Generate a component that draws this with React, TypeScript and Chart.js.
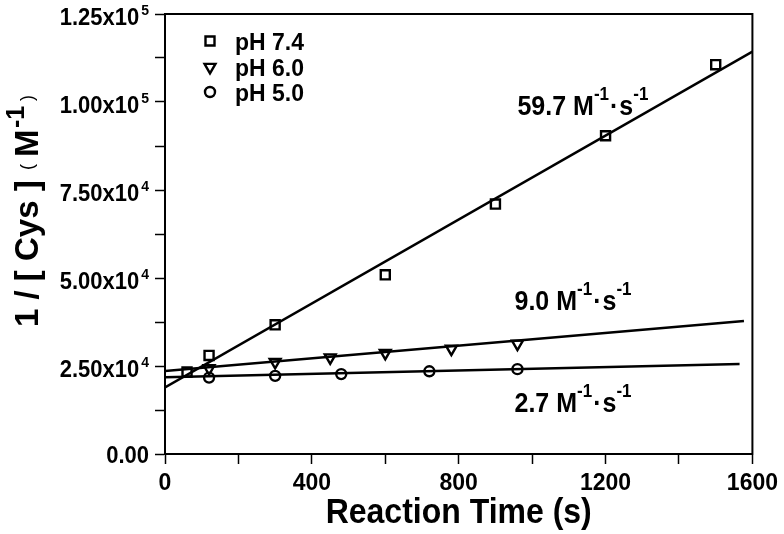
import React, { useEffect, useRef } from 'react';
import { Chart, registerables } from 'chart.js';

Chart.register(...registerables);

const FONT = '"Liberation Sans", Arial, Helvetica, sans-serif';

// pH 7.4 (squares)
const timeA = [60, 120, 300, 600, 900, 1200, 1500];
const valA = [23300, 28000, 36700, 50900, 71000, 90400, 110600];
// pH 6.0 (down triangles)
const timeB = [120, 300, 450, 600, 780, 960];
const valB = [24300, 26100, 27400, 28700, 29900, 31300];
// pH 5.0 (circles)
const timeC = [120, 300, 480, 720, 960];
const valC = [21700, 22200, 22700, 23500, 24100];

// fitted lines (end points)
const fitXA = [0, 1600];
const fitYA = [18900, 114300];
const fitXB = [0, 1577];
const fitYB = [23600, 37800];
const fitXC = [0, 1565];
const fitYC = [21800, 25600];

const seriesLabels = ['pH 7.4', 'pH 6.0', 'pH 5.0'];
const seriesStyles = ['rect', 'triangle', 'circle'];

// rate-constant annotations
const rateText = ['59.7', '9.0', '2.7'];
const rateX = [960, 952, 952];
const rateY = [96200, 40800, 11900];

// axis ticks
const xMin = 0;
const xMax = 1600;
const xStep = 200;
const xLabelEvery = 400;
const yMin = 0;
const yMax = 125000;
const yStep = 12500;
const yLabelValues = [0, 25000, 50000, 75000, 100000, 125000];
const yLabelMantissa = ['0.00', '2.50', '5.00', '7.50', '1.00', '1.25'];
const yLabelExp = ['', '4', '4', '4', '5', '5'];

const xTitle = 'Reaction Time (s)';

const zip = (xs: number[], ys: number[]) => xs.map((x, i) => ({ x, y: ys[i] }));

const SY = 1.08; // slight vertical stretch of the printed lettering

function fillStretched(ctx: CanvasRenderingContext2D, t: string, x: number, y: number) {
  ctx.save();
  ctx.translate(x, y);
  ctx.scale(1, SY);
  ctx.fillText(t, 0, 0);
  ctx.restore();
}

function drawMarker(ctx: CanvasRenderingContext2D, style: string, x: number, y: number) {
  ctx.save();
  ctx.strokeStyle = '#000';
  ctx.lineWidth = 2.4;
  ctx.beginPath();
  if (style === 'rect') {
    ctx.rect(x - 4.5, y - 4.5, 9, 9);
  } else if (style === 'triangle') {
    const r = 6.3;
    for (let k = 0; k < 3; k++) {
      const a = Math.PI + (k * 2 * Math.PI) / 3;
      const px = x + Math.sin(a) * r;
      const py = y - Math.cos(a) * r;
      if (k === 0) ctx.moveTo(px, py);
      else ctx.lineTo(px, py);
    }
    ctx.closePath();
  } else {
    ctx.arc(x, y, 5, 0, Math.PI * 2);
  }
  ctx.stroke();
  ctx.restore();
}

// draws a run of [text, font, dy, gap] parts from x along baseline y; returns end x
function drawRun(ctx: CanvasRenderingContext2D, x: number, y: number, parts: Array<[string, string, number, number?]>) {
  let cx = x;
  for (const [t, f, dy, gap] of parts) {
    ctx.font = f;
    cx += gap || 0;
    fillStretched(ctx, t, cx, y + dy);
    cx += ctx.measureText(t).width;
  }
  return cx;
}

const decorPlugin = {
  id: 'decor',
  afterDraw(chart: any) {
    const ctx: CanvasRenderingContext2D = chart.ctx;
    const { left, right, top, bottom } = chart.chartArea;
    const xs = chart.scales.x;
    const ys = chart.scales.y;
    ctx.save();
    // frame top/right
    ctx.strokeStyle = '#000';
    ctx.lineWidth = 2;
    ctx.beginPath();
    ctx.moveTo(left - 1, top);
    ctx.lineTo(right, top);
    ctx.lineTo(right, bottom + 1);
    ctx.stroke();

    ctx.fillStyle = '#000';
    ctx.textBaseline = 'alphabetic';

    // y tick labels with superscripts
    const labRight = left - 16;
    yLabelValues.forEach((v, i) => {
      const py = ys.getPixelForValue(v);
      if (yLabelExp[i]) {
        ctx.font = `bold 14px ${FONT}`;
        const w = ctx.measureText(yLabelExp[i]).width;
        ctx.textAlign = 'left';
        fillStretched(ctx, yLabelExp[i], labRight - w, py + 0.5);
        ctx.font = `bold 22px ${FONT}`;
        ctx.textAlign = 'right';
        fillStretched(ctx, yLabelMantissa[i] + 'x10', labRight - w - 2, py + 11);
      } else {
        ctx.font = `bold 22px ${FONT}`;
        ctx.textAlign = 'right';
        fillStretched(ctx, yLabelMantissa[i], labRight, py + 9);
      }
    });

    // x title
    ctx.textAlign = 'center';
    ctx.font = `bold 32px ${FONT}`;
    fillStretched(ctx, xTitle, (left + right) / 2, 523);

    // y title (rotated)
    ctx.save();
    ctx.translate(38, 327);
    ctx.rotate(-Math.PI / 2);
    ctx.textAlign = 'left';
    const main = `bold 33px ${FONT}`;
    const thin = `18px ${FONT}`;
    const sup = `bold 25px ${FONT}`;
    ctx.font = main;
    ctx.fillText('1 / [ Cys ]', 0, 0);
    ctx.font = thin;
    ctx.fillText('(', 157, -5);
    ctx.font = main;
    ctx.fillText('M', 170, 0);
    ctx.font = sup;
    ctx.fillText('-1', 199, -14);
    ctx.font = thin;
    ctx.fillText(')', 226, -5);
    ctx.restore();

    // rate annotations
    ctx.textAlign = 'left';
    const aMain = `bold 25px ${FONT}`;
    const aSup = `bold 17px ${FONT}`;
    rateText.forEach((t, i) => {
      const px = xs.getPixelForValue(rateX[i]);
      const py = ys.getPixelForValue(rateY[i]);
      drawRun(ctx, px, py, [
        [t + ' M', aMain, 0],
        ['-1', aSup, -15],
        ['\u00B7', aMain, 0, 1],
        ['s', aMain, 0, 1],
        ['-1', aSup, -15],
      ]);
    });

    // legend
    const legX = 210;
    const legTextX = 235;
    const legBase = [50, 76, 101];
    seriesLabels.forEach((lab, i) => {
      drawMarker(ctx, seriesStyles[i], legX, legBase[i] - 9);
      ctx.fillStyle = '#000';
      ctx.font = `bold 23px ${FONT}`;
      ctx.textAlign = 'left';
      fillStretched(ctx, lab, legTextX, legBase[i]);
    });

    ctx.restore();
  },
};

export default function App() {
  const ref = useRef<HTMLCanvasElement | null>(null);

  useEffect(() => {
    document.body.style.margin = '0';
    const canvas = ref.current;
    if (!canvas) return;
    const pointDs = (label: string, data: any[], style: string, radius: number, rot: number) => ({
      label,
      data,
      showLine: false,
      pointStyle: style,
      pointRadius: radius,
      pointRotation: rot,
      pointBorderWidth: 2.4,
      borderWidth: 2.4,
      pointBorderColor: '#000',
      pointBackgroundColor: 'rgba(0,0,0,0)',
      borderColor: '#000',
      backgroundColor: 'rgba(0,0,0,0)',
    });
    const lineDs = (data: any[]) => ({
      label: 'fit',
      data,
      showLine: true,
      pointRadius: 0,
      borderColor: '#000',
      borderWidth: 2.5,
      fill: false,
      tension: 0,
    });
    const chart = new Chart(canvas, {
      type: 'scatter',
      data: {
        datasets: [
          lineDs(zip(fitXA, fitYA)),
          lineDs(zip(fitXB, fitYB)),
          lineDs(zip(fitXC, fitYC)),
          pointDs(seriesLabels[0], zip(timeA, valA), 'rect', 6.4, 0),
          pointDs(seriesLabels[1], zip(timeB, valB), 'triangle', 6.3, 180),
          pointDs(seriesLabels[2], zip(timeC, valC), 'circle', 5, 0),
        ] as any,
      },
      options: {
        animation: false,
        responsive: false,
        events: [],
        layout: { padding: { top: 14, right: 28, left: 0, bottom: 0 } },
        plugins: { legend: { display: false }, tooltip: { enabled: false } },
        scales: {
          x: {
            type: 'linear',
            min: xMin,
            max: xMax,
            afterFit: (s: any) => {
              s.height = 80;
            },
            ticks: {
              stepSize: xStep,
              autoSkip: false,
              maxRotation: 0,
              padding: 6,
              color: '#000',
              font: { family: FONT, size: 23, weight: 'bold' },
              callback: (v: any) => (Number(v) % xLabelEvery === 0 ? String(v) : ''),
            },
            grid: {
              drawOnChartArea: false,
              drawTicks: true,
              tickLength: 10,
              tickColor: '#000',
              tickWidth: 1.5,
            },
            border: { display: true, color: '#000', width: 2 },
          },
          y: {
            type: 'linear',
            min: yMin,
            max: yMax,
            afterFit: (s: any) => {
              s.width = 165;
            },
            ticks: {
              stepSize: yStep,
              display: false,
            },
            grid: {
              drawOnChartArea: false,
              drawTicks: true,
              tickLength: 10,
              tickColor: '#000',
              tickWidth: 1.5,
            },
            border: { display: true, color: '#000', width: 2 },
          },
        },
      } as any,
      plugins: [decorPlugin],
    });
    return () => chart.destroy();
  }, []);

  return (
    <div style={{ position: 'absolute', left: 0, top: 0, width: 784, height: 534, background: '#fff' }}>
      <canvas ref={ref} width={784} height={534} style={{ width: 784, height: 534 }} />
    </div>
  );
}
